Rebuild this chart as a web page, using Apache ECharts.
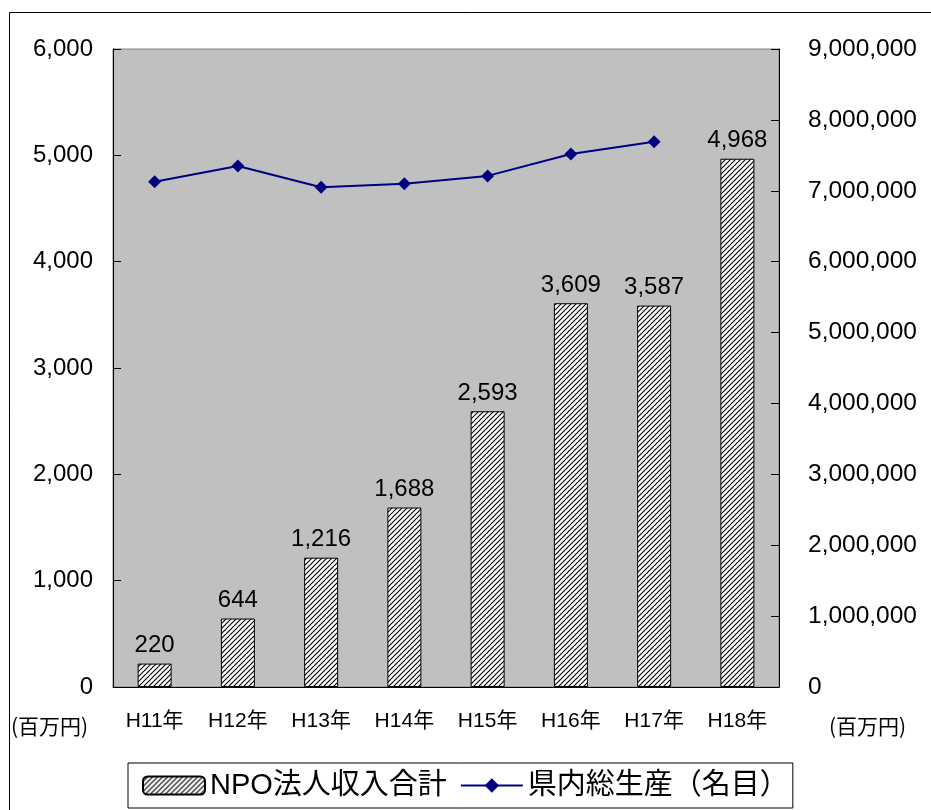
<!DOCTYPE html>
<html>
<head>
<meta charset="utf-8">
<script src="https://cdn.jsdelivr.net/npm/echarts@6/dist/echarts.min.js"></script>
<style>
  html, body { margin: 0; padding: 0; background: #fff; }
  #chart { width: 931px; height: 810px; }
</style>
</head>
<body>
<div id="chart"></div>
<script>
// data
const years = ['H11年', 'H12年', 'H13年', 'H14年', 'H15年', 'H16年', 'H17年', 'H18年']
const npoIncome = [220, 644, 1216, 1688, 2593, 3609, 3587, 4968]
const prefGdp = [7127000, 7350000, 7050000, 7100000, 7210000, 7520000, 7690000, null]
const leftTicks = [0, 1000, 2000, 3000, 4000, 5000, 6000]
const rightTicks = [0, 1000000, 2000000, 3000000, 4000000, 5000000, 6000000, 7000000, 8000000, 9000000]

const fmt = v => Number(v).toLocaleString('en-US')
const baseFont = '"Liberation Sans", Arial, "Noto Sans CJK JP", sans-serif'

// hatch pattern for the bars
function hatch() {
  const s = 5
  const c = document.createElement('canvas')
  c.width = s
  c.height = s
  const g = c.getContext('2d')
  g.fillStyle = '#fff'
  g.fillRect(0, 0, s, s)
  g.strokeStyle = '#000'
  g.lineWidth = 1.1
  g.beginPath()
  g.moveTo(-1, s + 1); g.lineTo(s + 1, -1)
  g.moveTo(-1, 1); g.lineTo(1, -1)
  g.moveTo(s - 1, s + 1); g.lineTo(s + 1, s - 1)
  g.stroke()
  return c
}

const chart = echarts.init(document.getElementById('chart'))
chart.setOption({
  animation: false,
  backgroundColor: '#fff',
  textStyle: { fontFamily: baseFont },
  graphic: [
    { type: 'rect', left: 7, top: 10, shape: { width: 1000, height: 1000 }, style: { fill: 'none', stroke: '#000', lineWidth: 1 }, silent: true, z: -1 },
    { type: 'text', left: 11, top: 716, style: { text: '(百万円)', font: '21px "Noto Sans CJK JP"', fill: '#000' } },
    { type: 'text', left: 829, top: 716, style: { text: '(百万円)', font: '21px "Noto Sans CJK JP"', fill: '#000' } }
  ],
  grid: {
    left: 113, right: 152, top: 49, bottom: 123,
    show: true, backgroundColor: '#c0c0c0', borderColor: '#808080', borderWidth: 1
  },
  legend: {
    left: 128, top: 763,
    padding: [8, 4, 8, 14],
    borderColor: '#000', borderWidth: 1,
    itemWidth: 62, itemHeight: 18, itemGap: 13,
    textStyle: { fontSize: 29, color: '#000', fontFamily: baseFont },
    data: ['NPO法人収入合計', '県内総生産（名目）']
  },
  xAxis: {
    type: 'category',
    data: years,
    axisLine: { lineStyle: { color: '#000', width: 1 } },
    axisTick: { inside: true, length: 6, lineStyle: { color: '#000' } },
    axisLabel: { color: '#000', fontSize: 21, margin: 24, interval: 0 }
  },
  yAxis: [{
    type: 'value', min: 0, max: 6000, interval: 1000,
    splitLine: { show: false },
    axisLine: { show: true, lineStyle: { color: '#000' } },
    axisTick: { show: true, inside: true, length: 8, lineStyle: { color: '#000' } },
    axisLabel: { color: '#000', fontSize: 24, margin: 20, formatter: v => leftTicks.includes(v) ? fmt(v) : '' }
  }, {
    type: 'value', min: 0, max: 9000000, interval: 1000000,
    splitLine: { show: false },
    axisLine: { show: true, lineStyle: { color: '#000' } },
    axisTick: { show: true, inside: true, length: 8, lineStyle: { color: '#000' } },
    axisLabel: { color: '#000', fontSize: 24.5, margin: 29, formatter: v => rightTicks.includes(v) ? fmt(v) : '' }
  }],
  series: [{
    name: 'NPO法人収入合計',
    type: 'bar',
    barWidth: 34,
    data: npoIncome,
    itemStyle: { color: { image: hatch(), repeat: 'repeat' }, borderColor: '#000', borderWidth: 1 },
    label: { show: true, position: 'top', distance: 6, color: '#000', fontSize: 24, formatter: p => fmt(p.value) }
  }, {
    name: '県内総生産（名目）',
    type: 'line',
    yAxisIndex: 1,
    data: prefGdp,
    symbol: 'diamond',
    symbolSize: 13,
    lineStyle: { color: '#000080', width: 2 },
    itemStyle: { color: '#000080' }
  }]
})
</script>
</body>
</html>
